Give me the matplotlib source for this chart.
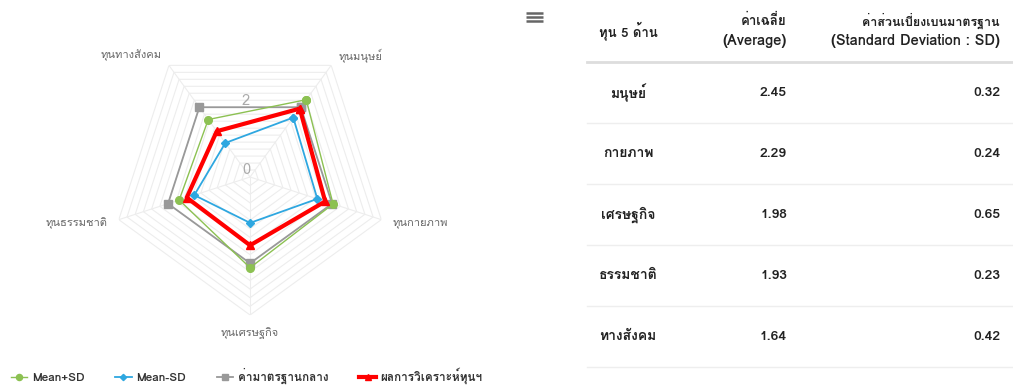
import matplotlib
matplotlib.use('Agg')
from matplotlib import pyplot as plt
from matplotlib import font_manager
from matplotlib.ft2font import FT2Font
import numpy as np

categories = ['ทุนมนุษย์', 'ทุนกายภาพ', 'ทุนเศรษฐกิจ', 'ทุนธรรมชาติ', 'ทุนทางสังคม']
table_names = ['มนุษย์', 'กายภาพ', 'เศรษฐกิจ', 'ธรรมชาติ', 'ทางสังคม']
average = [2.45, 2.29, 1.98, 1.93, 1.64]
sd = [0.32, 0.24, 0.65, 0.23, 0.42]
mean_plus_sd = [2.77, 2.53, 2.63, 2.16, 2.06]
mean_minus_sd = [2.13, 2.05, 1.33, 1.70, 1.22]
standard = [2.5, 2.5, 2.5, 2.5, 2.5]
series_names = ['Mean+SD', 'Mean-SD', 'ค่ามาตรฐานกลาง', 'ผลการวิเคราะห์ทุนฯ']
r_max = 4


def find_thai_font():
    # look for any installed font that has Thai glyphs
    for f in font_manager.fontManager.ttflist:
        try:
            if 0x0E01 in FT2Font(f.fname).get_charmap():
                return f.name
        except Exception:
            continue
    return None


thai = find_thai_font()
if thai:
    plt.rcParams['font.family'] = [thai, 'DejaVu Sans']
else:
    plt.rcParams['font.family'] = ['DejaVu Sans']

fig = plt.figure(figsize=(10.13, 3.87), dpi=100)

# radar chart
ax = fig.add_axes([0.1106, 0.186, 0.2725, 0.7132], projection='polar')
ax.set_theta_offset(np.radians(54))
ax.set_theta_direction(-1)
ax.set_ylim(0, r_max)
ax.axis('off')

n = len(categories)
theta = np.arange(n) * 2 * np.pi / n
th = np.append(theta, theta[0])


def close(values):
    return np.append(values, values[0])


for r in np.arange(0.25, r_max + 0.01, 0.25):
    ax.plot(th, [r] * (n + 1), color='#ededed', lw=0.8, zorder=1)
for a in theta:
    ax.plot([a, a], [0, r_max], color='#ededed', lw=0.8, zorder=1)

l_std, = ax.plot(th, close(standard), color='#999999', lw=1.3, marker='s', ms=5.5,
                 zorder=3, clip_on=False)
l_plus, = ax.plot(th, close(mean_plus_sd), color='#8cc152', lw=1.0, marker='o', ms=5.5,
                  zorder=4, clip_on=False)
l_minus, = ax.plot(th, close(mean_minus_sd), color='#2ea7e0', lw=1.3, marker='D', ms=4,
                   zorder=5, clip_on=False)
l_avg, = ax.plot(th, close(average), color='#ff0000', lw=3, marker='^', ms=6,
                 zorder=6, clip_on=False)

aligns = [('left', 'center'), ('left', 'center'), ('center', 'top'),
          ('right', 'center'), ('right', 'center')]
for a, label, (ha, va) in zip(theta, categories, aligns):
    ax.text(a, 4.35, label, ha=ha, va=va, fontsize=8, color='#666666', clip_on=False)

up = np.radians(54 - 90)
for v in [0, 2]:
    ax.text(up, v, str(v), ha='right', va='bottom', fontsize=10.5, color='#aaaaaa',
            zorder=2)

leg = fig.legend([l_plus, l_minus, l_std, l_avg], series_names, loc='lower left',
                 bbox_to_anchor=(0.0, -0.02), ncol=4, frameon=False, fontsize=8.5,
                 handlelength=1.4, handletextpad=0.4, columnspacing=2.6,
                 markerscale=0.8, labelcolor='#333333')
for t in leg.get_texts():
    t.set_fontweight('bold')

# table + export icon in pixel coordinates
ov = fig.add_axes([0, 0, 1, 1])
ov.set_xlim(0, 1013)
ov.set_ylim(387, 0)
ov.axis('off')

for y in [13, 17, 21]:
    ov.plot([526, 543], [y, y], color='#666666', lw=1.8, solid_capstyle='butt')

hdr = dict(fontweight='bold', color='#222222', va='center')
ov.text(628, 31, 'ทุน 5 ด้าน', ha='center', fontsize=9.5, **hdr)
ov.text(787, 21, 'ค่าเฉลี่ย', ha='right', fontsize=9.5, **hdr)
ov.text(787, 41, '(Average)', ha='right', fontsize=10.5, **hdr)
ov.text(1000, 21, 'ค่าส่วนเบี่ยงเบนมาตรฐาน', ha='right', fontsize=9, **hdr)
ov.text(1000, 41, '(Standard Deviation : SD)', ha='right', fontsize=10.5, **hdr)
ov.plot([587, 1013], [62, 62], color='#dddddd', lw=2)

cell = dict(fontsize=10, fontweight='bold', color='#222222', va='center')
for i, (name, a, s) in enumerate(zip(table_names, average, sd)):
    y = 93 + 61 * i
    ov.text(628, y, name, ha='center', **cell)
    ov.text(787, y, f'{a:.2f}', ha='right', **cell)
    ov.text(1000, y, f'{s:.2f}', ha='right', **cell)
    ov.plot([587, 1013], [y + 30, y + 30], color='#eeeeee', lw=1)

fig.savefig('out.png', dpi=100)
